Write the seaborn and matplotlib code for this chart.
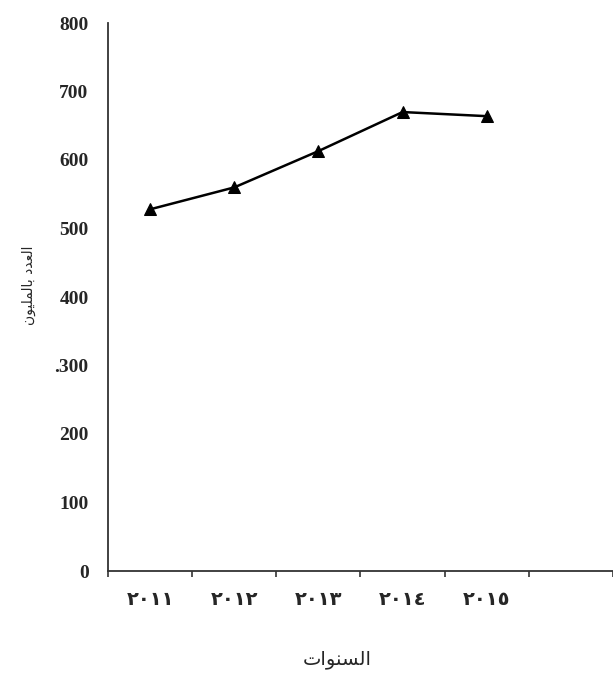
import matplotlib
matplotlib.use("Agg")
import matplotlib.pyplot as plt
import numpy as np
import pandas as pd
import seaborn as sns

# years in Arabic-Indic digits, as printed on the chart
YEARS = ["٢٠١١", "٢٠١٢", "٢٠١٣", "٢٠١٤", "٢٠١٥"]
VALUES = [528, 560, 613, 670, 664]
Y_TICKS = [0, 100, 200, 300, 400, 500, 600, 700, 800]
Y_TICK_LABELS = ["0", "100", "200", ".300", "400", "500", "600", "700", "800"]

# Arabic labels, pre-shaped (presentation forms, visual order) since
# matplotlib does no Arabic shaping on its own
X_LABEL = "\uFE95\uFE8D\uFEEE\uFEE8\uFEB4\uFEDF\uFE8D"  # السنوات
Y_LABEL = ("\uFEE5\uFEEE\uFEF4\uFEE0\uFEE4\uFEDF\uFE8E\uFE91"
           " \uFEA9\uFEAA\uFECC\uFEDF\uFE8D")  # العدد بالمليون


def main() -> None:
    sns.set_theme(style="white")
    plt.rcParams["font.family"] = ["Liberation Serif", "DejaVu Sans"]

    df = pd.DataFrame({"year": YEARS, "value": VALUES})

    fig = plt.figure(figsize=(6.13, 6.74), dpi=100)
    W, H = 613, 674
    ax = fig.add_axes([108 / W, 1 - 571 / H, (613 - 108) / W, (571 - 23) / H])

    sns.lineplot(data=df, x="year", y="value", sort=False, color="black",
                 linewidth=1.8, marker="^", markersize=8,
                 markeredgecolor="black", ax=ax)

    ax.set_xlim(-0.5, 5.5)
    ax.set_ylim(0, 800)

    ax.set_yticks(Y_TICKS)
    ax.set_yticklabels(Y_TICK_LABELS, fontsize=14, fontweight="bold")
    ax.tick_params(axis="y", length=0, pad=14)

    ax.set_xticks(range(len(YEARS)))
    ax.set_xticklabels(YEARS, fontsize=14, fontweight="bold",
                       family=["DejaVu Sans"])
    ax.set_xticks(np.arange(-0.5, 6.0, 1.0), minor=True)
    ax.tick_params(axis="x", which="major", length=0, pad=14)
    ax.tick_params(axis="x", which="minor", length=4, width=1.2,
                   direction="out", bottom=True, color="#333333")

    for side in ["top", "right"]:
        ax.spines[side].set_visible(False)
    for side in ["left", "bottom"]:
        ax.spines[side].set_color("#333333")
        ax.spines[side].set_linewidth(1.3)

    ax.set_xlabel(X_LABEL, fontsize=14, family=["DejaVu Sans"])
    ax.set_ylabel(Y_LABEL, fontsize=10, family=["DejaVu Sans"])
    ax.xaxis.set_label_coords((337 - 108) / (613 - 108), -(650 - 571) / (571 - 23))
    ax.yaxis.set_label_coords(-(108 - 36) / (613 - 108), (571 - 285) / (571 - 23))

    fig.savefig("out.png", dpi=100)
    plt.close(fig)


if __name__ == "__main__":
    main()
